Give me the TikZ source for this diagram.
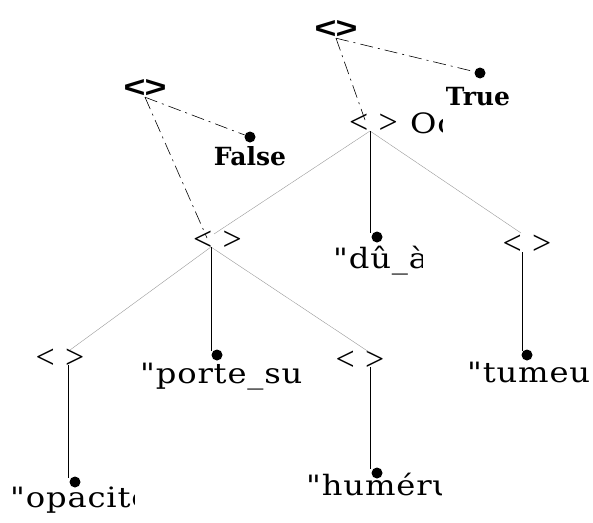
\documentclass[tikz,border=0pt]{standalone}
\usepackage{fontspec}
\newfontfamily\lblfont[FakeStretch=1.15,LetterSpace=3]{DejaVu Serif}
\newfontfamily\angfont[WordSpace=1.2]{Liberation Serif}
\newfontfamily\bangfont[FakeStretch=1.25]{Liberation Sans}
\newfontfamily\boolfont{DejaVu Serif}
\begin{document}
\begin{tikzpicture}[x=1pt,y=-1pt,
  ang/.style={inner sep=0pt,font=\angfont\fontsize{34}{34}\selectfont},
  bang/.style={inner sep=0pt,font=\bangfont\bfseries\fontsize{30}{30}\selectfont},
  boolfnt/.style={inner sep=0pt,font=\boolfont\bfseries\fontsize{25}{25}\selectfont},
  lbl/.style={inner sep=0pt,anchor=base west,font=\lblfont\fontsize{28}{28}\selectfont},
  dotn/.style={circle,fill=black,inner sep=0pt,minimum size=11pt},
  treeline/.style={gray!80,line width=0.4pt},
  leafline/.style={black,line width=0.9pt},
  dashdot/.style={black,line width=0.6pt,dash pattern=on 13pt off 5pt on 2pt off 5pt}]
\useasboundingbox (0,0) rectangle (593,522);

% bold heads
\node[bang] (ta) at (336,29) {<\kern-1pt>};
\node[bang] (tb) at (145,88) {<\kern-1pt>};
\node[dotn] (dtrue) at (480,73) {};
\node[boolfnt] (ltrue) at (478,97) {True};
\node[dotn] (dfalse) at (250,137) {};
\node[boolfnt] (lfalse) at (250,156) {False};

% tree nodes
\node[ang] (root) at (373.5,124) {< >};
\node[ang] (nl) at (217.5,241) {< >};
\node[ang] (nr) at (527,245) {< >};
\node[ang] (nll) at (60,359) {< >};
\node[ang] (nlr) at (360,361) {< >};

% junction points
\coordinate (jroot) at (370,131);
\coordinate (jnl) at (211,247);
\coordinate (jnr) at (522,252);
\coordinate (jnll) at (68,365);
\coordinate (jnlr) at (370,367);

% leaf dots
\node[dotn] (droot) at (377,237) {};
\node[dotn] (dnl) at (217,355) {};
\node[dotn] (dnr) at (527,355) {};
\node[dotn] (dnll) at (75,482) {};
\node[dotn] (dnlr) at (377,473) {};

% dash-dot connectors
\draw[dashdot] (ta.south) -- (dtrue);
\draw[dashdot] (ta.south) -- (365,120);
\draw[dashdot] (tb.south) -- (dfalse);
\draw[dashdot] (tb.south) -- (207,238);

% gray tree lines
\draw[treeline] (jroot) -- (214,234);
\draw[treeline] (jroot) -- (521,233);
\draw[treeline] (jnl) -- (70,350);
\draw[treeline] (jnl) -- (369,352);

% black leaf lines
\draw[leafline] (jroot) -- (jroot |- droot.north west);
\draw[leafline] (jnl) -- (jnl |- dnl.north west);
\draw[leafline] (jnr) -- (jnr |- dnr.north west);
\draw[leafline] (jnll) -- (jnll |- dnll.north west);
\draw[leafline] (jnlr) -- (jnlr |- dnlr.north west);

% clipped labels
\begin{scope}
\clip (400,100) rectangle (442,145);
\node[lbl] (loc) at (410,133) {Oc};
\end{scope}
\begin{scope}
\clip (320,240) rectangle (422,285);
\node[lbl] (ldu) at (333,268) {"dû\_à};
\end{scope}
\node[lbl] (lporte) at (140,383) {"porte\_su};
\node[lbl] (ltumeu) at (467,382) {"tumeu};
\begin{scope}
\clip (0,485) rectangle (134,522);
\node[lbl] (lopac) at (10,507) {"opacité};
\end{scope}
\begin{scope}
\clip (295,470) rectangle (441,515);
\node[lbl] (lhum) at (306,495) {"humérus};
\end{scope}
\end{tikzpicture}
\end{document}
